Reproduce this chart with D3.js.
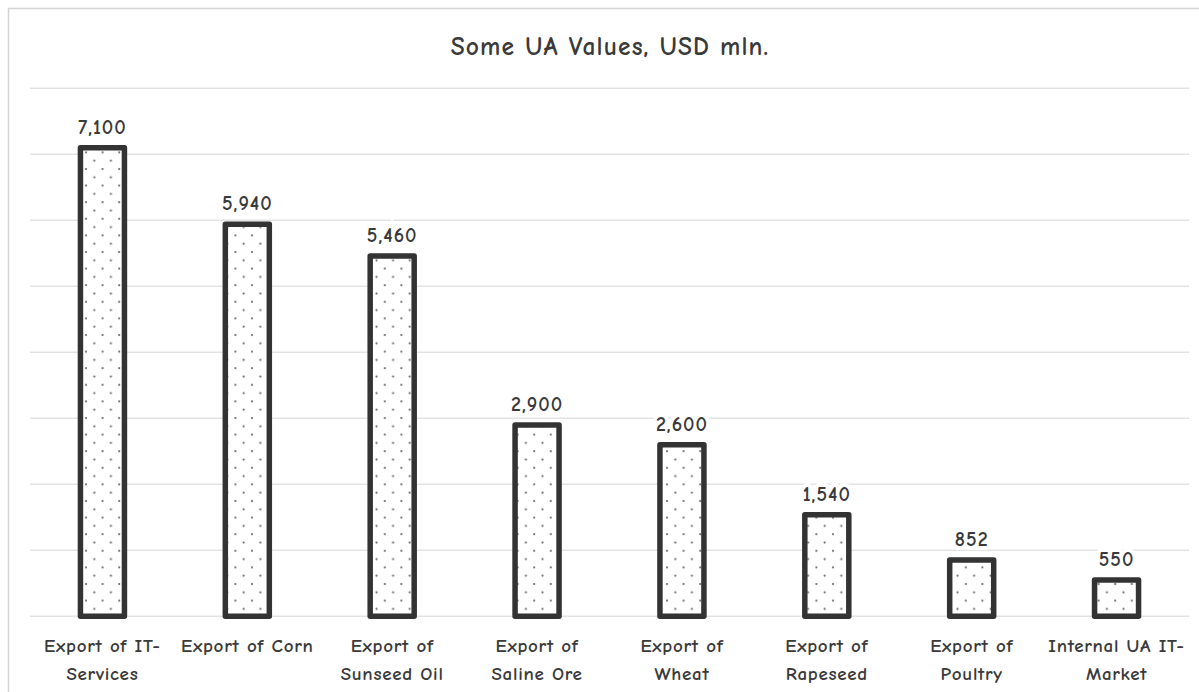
<!DOCTYPE html>
<html>
<head>
<meta charset="utf-8">
<script src="https://cdn.jsdelivr.net/npm/d3@7"></script>
<style>
  html, body { margin: 0; padding: 0; background: #fff; }
  svg { display: block; }
  text { font-family: "Comic Sans MS", "Comic Neue", "Open Sans", "Noto Sans", sans-serif; fill: #3a3a3a; font-weight: 700; }
</style>
</head>
<body>
<svg id="chart" width="1199" height="692"></svg>
<script>
// Category labels, pre-split into the lines shown under each bar
const categories = [
  ["Export of IT-", "Services"],
  ["Export of Corn"],
  ["Export of", "Sunseed Oil"],
  ["Export of", "Saline Ore"],
  ["Export of", "Wheat"],
  ["Export of", "Rapeseed"],
  ["Export of", "Poultry"],
  ["Internal UA IT-", "Market"]
];
const values = [7100, 5940, 5460, 2900, 2600, 1540, 852, 550];
const gridTicks = [0, 1000, 2000, 3000, 4000, 5000, 6000, 7000, 8000];
const title = "Some UA Values, USD mln.";

const svg = d3.select("#chart");
const W = 1199, H = 692;
const plot = { left: 30, right: 1189, top: 88.3, bottom: 616.3 };

// outer chart frame
svg.append("rect")
  .attr("x", 8.5).attr("y", 8.5)
  .attr("width", W + 10).attr("height", H + 10)
  .attr("fill", "#fff").attr("stroke", "#d4d4d4").attr("stroke-width", 1.5);

// dotted fill pattern
const defs = svg.append("defs");
const pat = defs.append("pattern")
  .attr("id", "dots").attr("patternUnits", "userSpaceOnUse")
  .attr("width", 16.6).attr("height", 16.6);
pat.append("rect").attr("width", 16.6).attr("height", 16.6).attr("fill", "#fff");
pat.append("circle").attr("cx", 3).attr("cy", 3).attr("r", 1.1).attr("fill", "#666");
pat.append("circle").attr("cx", 11.3).attr("cy", 11.3).attr("r", 1.1).attr("fill", "#666");

const x = d3.scaleBand()
  .domain(d3.range(categories.length))
  .range([plot.left, plot.right])
  .paddingInner(0.7).paddingOuter(0.35);

const y = d3.scaleLinear().domain([0, 8000]).range([plot.bottom, plot.top]);

// horizontal gridlines
svg.append("g").selectAll("line").data(gridTicks).join("line")
  .attr("x1", plot.left).attr("x2", plot.right)
  .attr("y1", d => y(d)).attr("y2", d => y(d))
  .attr("stroke", "#e3e3e3").attr("stroke-width", 1.5);

// title
svg.append("text")
  .attr("x", 610).attr("y", 55)
  .attr("text-anchor", "middle")
  .attr("font-size", 25.5)
  .attr("letter-spacing", 1.1)
  .text(title);

// bars
const bw = 44;
svg.append("g").selectAll("rect").data(values).join("rect")
  .attr("x", (d, i) => x(i) + x.bandwidth() / 2 - bw / 2)
  .attr("y", d => y(d))
  .attr("width", bw)
  .attr("height", d => y(0) - y(d))
  .attr("fill", "url(#dots)")
  .attr("stroke", "#333")
  .attr("stroke-width", 5.5)
  .attr("stroke-linejoin", "round");

// value labels with a white halo over the gridlines
svg.append("g").selectAll("text").data(values).join("text")
  .attr("x", (d, i) => x(i) + x.bandwidth() / 2)
  .attr("y", d => y(d) - 14)
  .attr("text-anchor", "middle")
  .attr("font-size", 20)
  .attr("letter-spacing", 1)
  .attr("stroke", "#fff").attr("stroke-width", 8)
  .attr("paint-order", "stroke")
  .text(d => d3.format(",")(d));

// category labels
const cat = svg.append("g").selectAll("text").data(categories).join("text")
  .attr("x", (d, i) => x(i) + x.bandwidth() / 2)
  .attr("y", 652)
  .attr("text-anchor", "middle")
  .attr("font-size", 19)
  .attr("letter-spacing", 0.7);
cat.selectAll("tspan").data(d => d).join("tspan")
  .attr("x", function () { return this.parentNode.getAttribute("x"); })
  .attr("dy", (d, j) => j === 0 ? 0 : 28)
  .text(d => d);
</script>
</body>
</html>
